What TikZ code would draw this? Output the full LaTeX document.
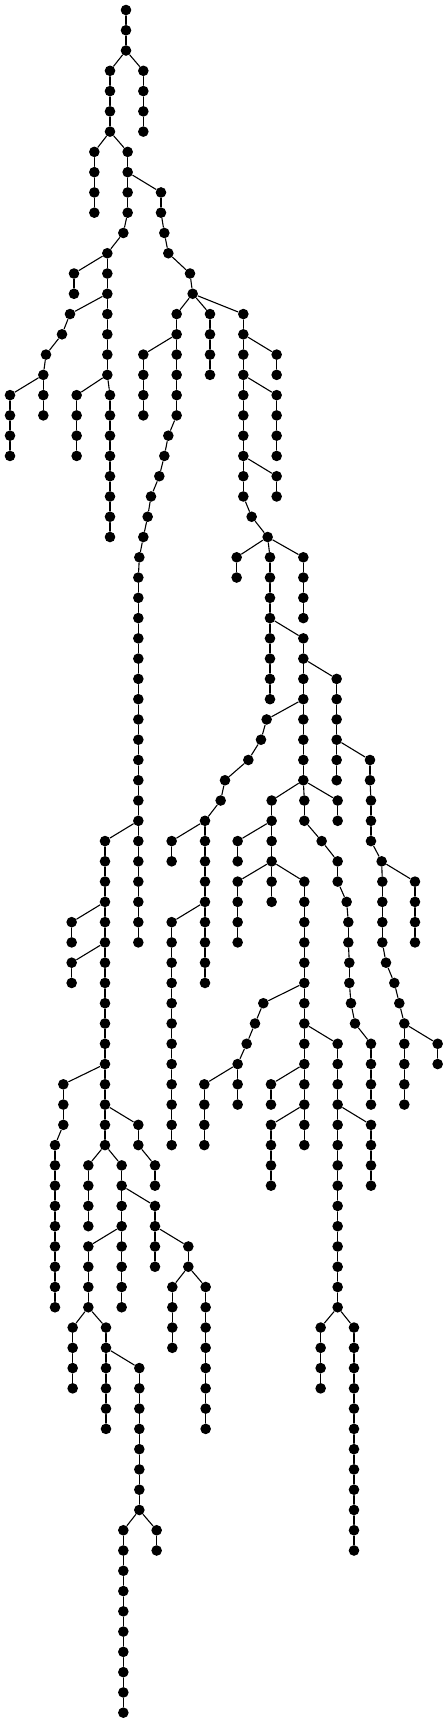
\documentclass[tikz,border=0pt]{standalone}
\usetikzlibrary{positioning}

% one branch of the tree: name, first level, x of each node going down
\newcommand{\branch}[3]{%
  \foreach \px [count=\lv from #2] in {#3}{%
    \node[vtx] (#1\lv) at (\px,\lv) {};
    \ifnum\lv>#2\relax
      \pgfmathtruncatemacro{\prevlv}{\lv-1}%
      \draw (#1\prevlv) -- (#1\lv);
    \fi
  }}

\begin{document}
\begin{tikzpicture}[x=0.33333pt,y=-20.27pt,line width=1.1pt,line cap=round,
  vtx/.style={circle,fill=black,inner sep=0pt,minimum size=10.6pt}]
  \useasboundingbox (0,-0.4933) rectangle (1344,84.51);
  \branch{top}{0}{378,378,378}
  \branch{a}{3}{330,330,330,330}
  \branch{b}{3}{430,430,430,430}
  \branch{c}{7}{283,283,283,283}
  \branch{d}{7}{383,383,383,383,370,322,322,322,322,322,322,322,330,330,330,330,330,330,330,330}
  \branch{e}{9}{483,483,493,505,570,578}
  \branch{f}{13}{222,222}
  \branch{g}{15}{210,186,138,130,130,130}
  \branch{h}{15}{530,530,530,530,530,530,505,493,478,453,443,430,418,415,
    415,415,415,415,415,415,415,415,415,415,415,415,415,415,415,415,415,415}
  \branch{i}{15}{630,630,630,630}
  \branch{j}{15}{730,730,730,730,730,730,730,730,730,730,755,803,810,810,810,810,810,810,810,810}
  \branch{k}{17}{430,430,430,430}
  \branch{l}{17}{830,830}
  \branch{m}{19}{30,30,30,30}
  \branch{n}{19}{230,230,230,230}
  \branch{o}{19}{830,830,830,830}
  \branch{p}{23}{830,830}
  \branch{q}{27}{710,710}
  \branch{ra}{27}{910,910,910,910}
  \branch{s}{31}{910,910,910,910,910,910,910,910,913,913,965,1013,1013,1040,1045,1045,
    1048,1048,1053,1065,1113,1113,1113,1113}
  \branch{t}{33}{1010,1010,1010,1010,1010,1010}
  \branch{u}{35}{800,783,745,675,662,615,615,615,615,615,615,615,615,615}
  \branch{v}{37}{1110,1110,1113,1113,1113,1145,1147,1147,1147,1147,1158,1183,1198,
    1213,1213,1213,1213,1213}
  \branch{w}{39}{815,815,815,815,815,815}
  \branch{x}{39}{1013,1013}
  \branch{y}{41}{315,315,315,315,315,315,315,315,315,315,315,315,315,315,315,315,
    365,365,365,365,365,365,365,365}
  \branch{z}{41}{515,515}
  \branch{aa}{41}{713,713}
  \branch{bb}{43}{713,713,713,713}
  \branch{cc}{43}{913,913,913,913,913,913,913,913,913,913,913,913,913,913}
  \branch{dd}{43}{1245,1245,1245,1245}
  \branch{ee}{45}{215,215}
  \branch{ff}{45}{515,515,515,515,515,515,515,515,515,515,515,515}
  \branch{gg}{47}{215,215}
  \branch{hh}{49}{790,765,740,713,713,713}
  \branch{ii}{51}{1013,1013,1013,1013,1013,1013,1013,1013,1013,1013,1013,1013,1013,1013,
    1062,1062,1062,1062,1062,1062,1062,1062,1062,1062,1062,1062}
  \branch{jj}{51}{1313,1313}
  \branch{kk}{53}{190,190,190,165,165,165,165,165,165,165,165,165}
  \branch{ll}{53}{613,613,613,613}
  \branch{mm}{53}{813,813}
  \branch{nn}{55}{415,415}
  \branch{oo}{55}{813,813,813,813}
  \branch{pp}{55}{1113,1113,1113,1113}
  \branch{qq}{57}{265,265,265,265}
  \branch{rr}{57}{465,465}
  \branch{ss}{59}{465,465,465,465}
  \branch{tt}{61}{265,265,265,265,318,318,318,318,318,318}
  \branch{uu}{61}{565,565}
  \branch{vv}{63}{517,517,517,517}
  \branch{ww}{63}{617,617,617,617,617,617,617,617}
  \branch{xx}{65}{218,218,218,218}
  \branch{yy}{65}{962,962,962,962}
  \branch{zz}{67}{418,418,418,418,418,418,418,418}
  \branch{ab}{75}{370,370,370,370,370,370,370,370,370,370}
  \branch{ac}{75}{470,470}
  % where the branches split off
  \foreach \from/\to in {top2/a3,top2/b3,a6/c7,a6/d7,d8/e9,d12/f13,d14/g15,
    e14/h15,e14/i15,e14/j15,h16/k17,j16/l17,g18/m19,d18/n19,j18/o19,j22/p23,
    j26/q27,j26/ra27,j30/s31,s32/t33,s34/u35,t36/v37,s38/w39,s38/x39,
    h40/y41,u40/z41,w40/aa41,w42/bb43,w42/cc43,v42/dd43,y44/ee45,u44/ff45,
    y46/gg47,cc48/hh49,cc50/ii51,v50/jj51,y52/kk53,hh52/ll53,cc52/mm53,
    y54/nn55,cc54/oo55,ii54/pp55,y56/qq57,nn56/rr57,y58/ss59,y60/tt61,
    ss60/uu61,uu62/vv63,uu62/ww63,tt64/xx65,ii64/yy65,tt66/zz67,zz74/ab75,
    zz74/ac75}
    \draw (\from) -- (\to);
\end{tikzpicture}
\end{document}
